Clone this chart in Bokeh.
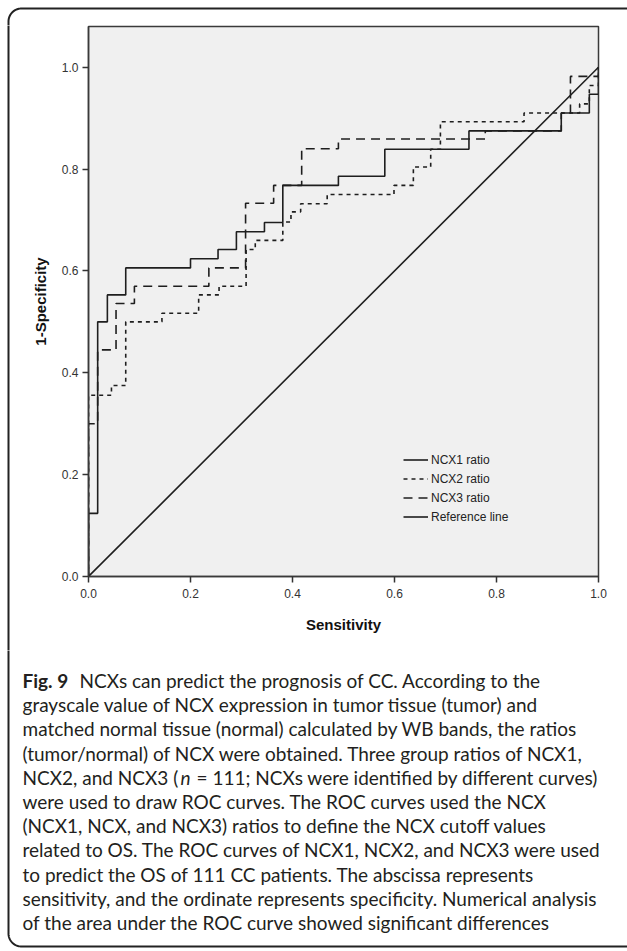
import numpy as np
from bokeh.plotting import figure
from bokeh.layouts import column, row
from bokeh.models import Range1d, Legend, LegendItem, Label, FixedTicker, PrintfTickFormatter
from bokeh.embed import file_html
from bokeh.resources import INLINE

# ---- data (x where the curve rises, level reached after the rise) ----
ncx1_x = [0.0, 0.018, 0.037, 0.073, 0.200, 0.254, 0.290, 0.345, 0.381, 0.490, 0.581, 0.746, 0.927, 0.982, 1.0]
ncx1_y = [0.124, 0.500, 0.553, 0.606, 0.624, 0.642, 0.677, 0.695, 0.768, 0.786, 0.839, 0.875, 0.910, 0.947, 1.0]

ncx2_x = [0.0, 0.045, 0.073, 0.144, 0.216, 0.256, 0.309, 0.327, 0.381, 0.397, 0.416, 0.468, 0.599, 0.637, 0.671, 0.690, 0.854, 0.963, 0.982, 1.0]
ncx2_y = [0.356, 0.375, 0.500, 0.517, 0.553, 0.570, 0.642, 0.660, 0.696, 0.716, 0.732, 0.750, 0.768, 0.804, 0.839, 0.893, 0.910, 0.928, 0.964, 1.0]

ncx3_x = [0.0, 0.018, 0.054, 0.090, 0.236, 0.308, 0.363, 0.418, 0.490, 0.778, 0.927, 0.945, 1.0]
ncx3_y = [0.300, 0.445, 0.536, 0.570, 0.606, 0.733, 0.768, 0.840, 0.859, 0.875, 0.910, 0.982, 1.0]

ref_x = [0.0, 1.0]
ref_y = [0.0, 1.0]

tick_values = [0.0, 0.2, 0.4, 0.6, 0.8, 1.0]
legend_labels = ["NCX1 ratio", "NCX2 ratio", "NCX3 ratio", "Reference line"]

caption_lines = [
    "NCXs can predict the prognosis of CC. According to the",
    "grayscale value of NCX expression in tumor tissue (tumor) and",
    "matched normal tissue (normal) calculated by WB bands, the ratios",
    "(tumor/normal) of NCX were obtained. Three group ratios of NCX1,",
    "NCX2, and NCX3 (",
    "were used to draw ROC curves. The ROC curves used the NCX",
    "(NCX1, NCX, and NCX3) ratios to define the NCX cutoff values",
    "related to OS. The ROC curves of NCX1, NCX2, and NCX3 were used",
    "to predict the OS of 111 CC patients. The abscissa represents",
    "sensitivity, and the ordinate represents specificity. Numerical analysis",
    "of the area under the ROC curve showed significant differences",
]
caption_bold = "Fig. 9"
caption_italic = "n"
caption_rest5 = "= 111; NCXs were identified by different curves)"


def staircase(rx, ry):
    xs, ys = [0.0], [0.0]
    for x, y in zip(rx, ry):
        xs += [x, x]
        ys += [ys[-1], y]
    return xs, ys


PAGE_W, PAGE_H = 627, 951
TOP_H = 25          # top strip (page y 0..25)
LEFT_W = 22         # left strip beside the chart (page x 0..22)
CHART_H = 625       # chart figure (page y 25..650)
CAP_Y0 = TOP_H + CHART_H
CAP_H = PAGE_H - CAP_Y0
INNER_W = PAGE_W - LEFT_W
FL, FW, FH = 88 - LEFT_W, 510, 550
YMAX = 1.08
BOX = "#222222"
BOX_W = 2
BX, BY_TOP, BY_BOT, RAD = 8, 8, 946, 13


def blank(w, h, xr, yr):
    f = figure(width=w, height=h, output_backend="svg", toolbar_location=None,
               x_range=Range1d(*xr), y_range=Range1d(*yr), frame_align=False,
               min_border=0, min_border_left=0, min_border_right=0,
               min_border_top=0, min_border_bottom=0)
    f.axis.visible = False
    f.grid.visible = False
    f.outline_line_color = None
    f.background_fill_color = "white"
    f.border_fill_color = "white"
    return f


t = np.linspace(0, np.pi / 2, 24)

# ---- top strip: top edge and upper-left corner of the frame ----
top = blank(PAGE_W, TOP_H, (0, PAGE_W), (TOP_H, 0))
arc_x = list(BX + RAD - RAD * np.cos(t))
arc_y = list(BY_TOP + RAD - RAD * np.sin(t))
top.line([BX, BX] + arc_x + [PAGE_W + 5], [TOP_H + 2, BY_TOP + RAD] + arc_y + [BY_TOP],
         line_color=BOX, line_width=BOX_W)

# ---- left strip beside the chart ----
left = blank(LEFT_W, CHART_H, (0, LEFT_W), (CAP_Y0, TOP_H))
left.line([BX, BX], [TOP_H - 2, CAP_Y0 + 2], line_color=BOX, line_width=BOX_W)

# ---- ROC chart ----
p = figure(width=INNER_W, height=CHART_H, output_backend="svg", toolbar_location=None,
           x_range=Range1d(0, 1.0), y_range=Range1d(0, YMAX), frame_align=False,
           min_border_left=FL, min_border_right=INNER_W - FL - FW,
           min_border_top=1, min_border_bottom=CHART_H - 1 - FH)

p.background_fill_color = "#f0f0f0"
p.border_fill_color = "white"
p.outline_line_color = "#3a3a3a"
p.outline_line_width = 1.5
p.xgrid.visible = False
p.ygrid.visible = False

for ax in (p.xaxis[0], p.yaxis[0]):
    ax.ticker = FixedTicker(ticks=tick_values)
    ax.formatter = PrintfTickFormatter(format="%.1f")
    ax.minor_tick_line_color = None
    ax.major_tick_in = 0
    ax.major_tick_out = 6
    ax.major_tick_line_color = "#333333"
    ax.major_tick_line_width = 1.5
    ax.axis_line_color = "#3a3a3a"
    ax.axis_line_width = 1.5
    ax.major_label_text_font = "Liberation Sans"
    ax.major_label_text_font_size = "12px"
    ax.major_label_text_color = "#333333"
    ax.axis_label_text_font = "Liberation Sans"
    ax.axis_label_text_font_size = "15px"
    ax.axis_label_text_font_style = "bold"
    ax.axis_label_text_color = "#111111"

p.xaxis.major_label_standoff = 6
p.yaxis.major_label_standoff = 4
p.xaxis.axis_label = "Sensitivity"
p.yaxis.axis_label = "1-Specificity"
p.xaxis.axis_label_standoff = 15
p.yaxis.axis_label_standoff = 10

col = "#1e1e1e"
x1, y1 = staircase(ncx1_x, ncx1_y)
x2, y2 = staircase(ncx2_x, ncx2_y)
x3, y3 = staircase(ncx3_x, ncx3_y)
r_ref = p.line(ref_x, ref_y, line_color=col, line_width=1.6)
r3 = p.line(x3, y3, line_color=col, line_width=1.6, line_dash="9 6")
r2 = p.line(x2, y2, line_color=col, line_width=1.6, line_dash="4 4")
r1 = p.line(x1, y1, line_color=col, line_width=1.6)

legend = Legend(items=[LegendItem(label=legend_labels[0], renderers=[r1]),
                       LegendItem(label=legend_labels[1], renderers=[r2]),
                       LegendItem(label=legend_labels[2], renderers=[r3]),
                       LegendItem(label=legend_labels[3], renderers=[r_ref])],
                location=(315, 52), padding=0, margin=0, spacing=4,
                glyph_width=25, glyph_height=15, label_height=15, label_standoff=3,
                label_text_font="Liberation Sans", label_text_font_size="12px",
                label_text_color="#222222", border_line_color=None,
                background_fill_alpha=0)
p.add_layout(legend)

# ---- caption (full page width, also carries lower part of the frame) ----
cap = blank(PAGE_W, CAP_H, (0, PAGE_W), (PAGE_H, CAP_Y0))
arc2_x = list(BX + RAD - RAD * np.cos(t))
arc2_y = list(BY_BOT - RAD + RAD * np.sin(t))
cap.line([BX, BX] + arc2_x + [PAGE_W + 5], [CAP_Y0 - 2, BY_BOT - RAD] + arc2_y + [BY_BOT],
         line_color=BOX, line_width=BOX_W)

CAP_FONT = "Lato"
CAP_SIZE = "19px"
cap_color = "#231f20"
LINE0, LSTEP = 680, 24.2
TX = 22
for i, line in enumerate(caption_lines):
    cap.add_layout(Label(x=79 if i == 0 else TX, y=LINE0 + LSTEP * i, text=line,
                         text_font=CAP_FONT, text_font_size=CAP_SIZE,
                         text_baseline="middle", text_color=cap_color))
cap.add_layout(Label(x=TX, y=LINE0, text=caption_bold, text_font=CAP_FONT,
                     text_font_size=CAP_SIZE, text_font_style="bold",
                     text_baseline="middle", text_color=cap_color))
cap.add_layout(Label(x=180, y=LINE0 + LSTEP * 4, text=caption_italic, text_font=CAP_FONT,
                     text_font_size=CAP_SIZE, text_font_style="italic",
                     text_baseline="middle", text_color=cap_color))
cap.add_layout(Label(x=196, y=LINE0 + LSTEP * 4, text=caption_rest5, text_font=CAP_FONT,
                     text_font_size=CAP_SIZE, text_baseline="middle", text_color=cap_color))

layout = column(top, row(left, p, spacing=0), cap, spacing=0)
open("out.html", "w").write(file_html(layout, INLINE))
